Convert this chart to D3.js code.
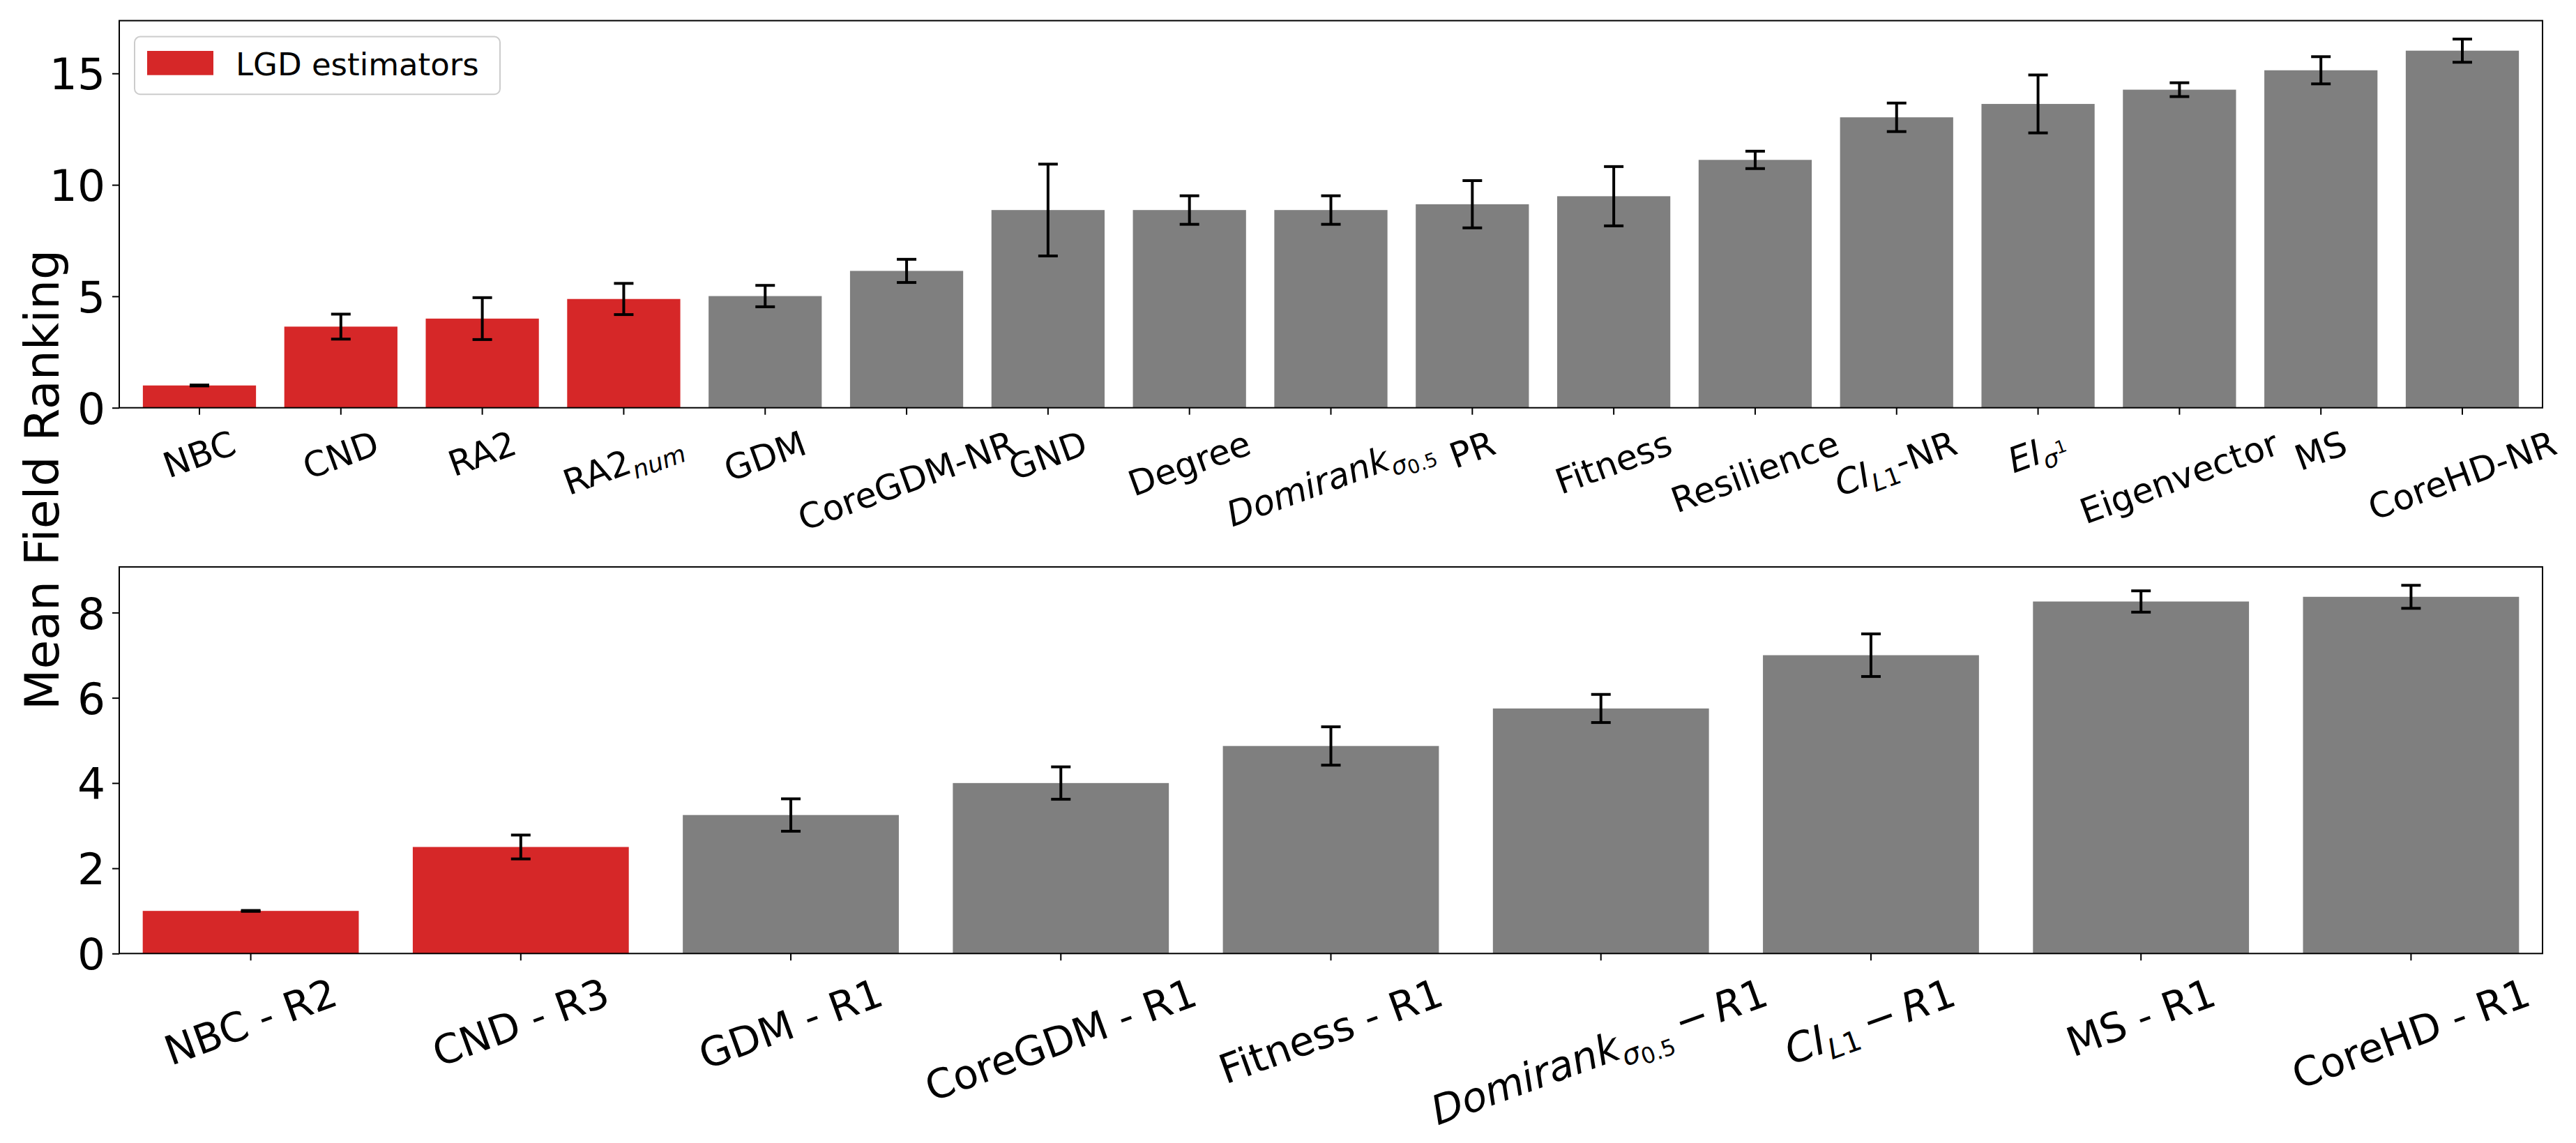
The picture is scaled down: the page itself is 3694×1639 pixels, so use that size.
<!DOCTYPE html>
<html>
<head>
<meta charset="utf-8">
<script src="https://cdn.jsdelivr.net/npm/d3@7.9.0/dist/d3.min.js"></script>
<style>
  body { margin: 0; background: #fff; }
  svg { display: block; font-family: "DejaVu Sans", sans-serif; }
  text { white-space: pre; }
</style>
</head>
<body>
<svg id="chart" width="3694" height="1639"></svg>
<script>
// label segments: [text, italic?, level]  level: 0 base, 1 sub, 2 sub-sub, 3 sup on sub
const topLabels = [
    [['NBC']],
    [['CND']],
    [['RA2']],
    [['RA2'], ['num', 1, 1]],
    [['GDM']],
    [['CoreGDM-NR']],
    [['GND']],
    [['Degree']],
    [['Domirank', 1], ['σ', 1, 1], ['0.5', 0, 2]],
    [['PR']],
    [['Fitness']],
    [['Resilience']],
    [['CI', 1], ['L', 1, 1], ['1', 0, 1], ['-NR']],
    [['EI', 1], ['σ', 1, 1], ['1', 0, 3]],
    [['Eigenvector']],
    [['MS']],
    [['CoreHD-NR']],
];
const topMeans = [1.0, 3.64, 4.0, 4.88, 5.01, 6.14, 8.87, 8.87, 8.87, 9.13, 9.49, 11.12, 13.03, 13.63, 14.27, 15.14, 16.02];
const topErrors = [0.02, 0.56, 0.94, 0.70, 0.48, 0.52, 2.06, 0.64, 0.64, 1.06, 1.33, 0.39, 0.64, 1.30, 0.31, 0.61, 0.52];
const topGroups = ['LGD', 'LGD', 'LGD', 'LGD', 'other', 'other', 'other', 'other', 'other',
    'other', 'other', 'other', 'other', 'other', 'other', 'other', 'other'];

const bottomLabels = [
    [['NBC - R2']],
    [['CND - R3']],
    [['GDM - R1']],
    [['CoreGDM - R1']],
    [['Fitness - R1']],
    [['Domirank', 1], ['σ', 1, 1], ['0.5', 0, 2], ['\u2009−\u2009'], ['R', 1], ['1']],
    [['CI', 1], ['L', 1, 1], ['1', 0, 1], ['\u2009−\u2009'], ['R', 1], ['1']],
    [['MS - R1']],
    [['CoreHD - R1']],
];
const bottomMeans = [1.0, 2.50, 3.25, 4.0, 4.87, 5.75, 7.0, 8.26, 8.37];
const bottomErrors = [0.01, 0.28, 0.38, 0.38, 0.45, 0.33, 0.50, 0.25, 0.27];
const bottomGroups = ['LGD', 'LGD', 'other', 'other', 'other', 'other', 'other', 'other', 'other'];

const topTicks = [0, 5, 10, 15];
const bottomTicks = [0, 2, 4, 6, 8];
const legendLabel = 'LGD estimators';

const svg = d3.select('#chart');
const color = d3.scaleOrdinal().domain(['LGD', 'other']).range(['#d62728', '#7f7f7f']);

const left = 171, right = 3646;

// draw rotated rich tick label, centered on x, top of rotated box at yTop
function richLabel(g, segs, x, yTop, fs) {
    let t = g.append('text')
        .attr('text-anchor', 'middle')
        .attr('font-size', fs)
        .attr('fill', '#000');
    let prev = 0;
    segs.forEach(([s, it, lvl]) => {
        let size = [1, 0.7, 0.55, 0.5][lvl || 0];
        let off = [0, 0.22, 0.34, -0.08][lvl || 0] * fs;
        t.append('tspan')
            .attr('dy', off - prev)
            .attr('font-size', fs * size)
            .attr('font-style', it ? 'italic' : 'normal')
            .text(s);
        prev = off;
    });
    let b = t.node().getBBox();
    let a = 20 * Math.PI / 180;
    let rotH = b.width * Math.sin(a) + b.height * Math.cos(a);
    let cx = b.x + b.width / 2, cy = b.y + b.height / 2;
    t.attr('transform', `translate(${x},${yTop + rotH / 2}) rotate(-20) translate(${-cx},${-cy})`);
}

function renderPanel(labels, means, errors, groups, ticks, top, bottom, outer, labelSize) {
    let x = d3.scaleBand()
        .domain(d3.range(means.length))
        .range([left, right])
        .paddingInner(0.2)
        .paddingOuter(outer);
    let yMax = d3.max(means.map((m, i) => m + errors[i])) * 1.05;
    let y = d3.scaleLinear().domain([0, yMax]).range([bottom, top]);

    let g = svg.append('g');

    // bars
    g.selectAll('rect.bar')
        .data(means)
        .join('rect')
        .attr('class', 'bar')
        .attr('x', (d, i) => x(i))
        .attr('width', x.bandwidth())
        .attr('y', (d) => y(d))
        .attr('height', (d) => y(0) - y(d))
        .attr('fill', (d, i) => color(groups[i]));

    // error bars
    means.forEach((m, i) => {
        let cx = x(i) + x.bandwidth() / 2;
        let eb = g.append('g').attr('stroke', '#000').attr('stroke-width', 4);
        eb.append('line').attr('x1', cx).attr('x2', cx).attr('y1', y(m - errors[i])).attr('y2', y(m + errors[i]));
        [m - errors[i], m + errors[i]].forEach((v) => {
            eb.append('line').attr('x1', cx - 14).attr('x2', cx + 14).attr('y1', y(v)).attr('y2', y(v));
        });
    });

    // y axis
    let ya = g.append('g')
        .attr('transform', `translate(${left},0)`)
        .call(d3.axisLeft(y).tickValues(ticks).tickSize(10).tickPadding(10).tickFormat(d3.format('d')));
    ya.select('.domain').remove();
    ya.selectAll('line').attr('stroke-width', 2);
    ya.selectAll('text').attr('font-size', 63).attr('font-family', 'DejaVu Sans').attr('dy', '0.36em');

    // x axis
    let xa = g.append('g')
        .attr('transform', `translate(0,${bottom})`)
        .call(d3.axisBottom(x).tickSize(10).tickFormat(''));
    xa.select('.domain').remove();
    xa.selectAll('line').attr('stroke-width', 2);

    labels.forEach((segs, i) => {
        richLabel(g, segs, x(i) + x.bandwidth() / 2, bottom + 22, labelSize);
    });

    // frame
    g.append('rect')
        .attr('x', left).attr('y', top)
        .attr('width', right - left).attr('height', bottom - top)
        .attr('fill', 'none').attr('stroke', '#000').attr('stroke-width', 2);
}

renderPanel(topLabels, topMeans, topErrors, topGroups, topTicks, 29.6, 584.7, 0.167, 50);
renderPanel(bottomLabels, bottomMeans, bottomErrors, bottomGroups, bottomTicks, 812.9, 1367.3, 0.087, 58);

// legend
let legend = svg.append('g');
legend.append('rect')
    .attr('x', 193).attr('y', 52.6).attr('width', 524).attr('height', 82.6)
    .attr('rx', 8)
    .attr('fill', '#fff').attr('fill-opacity', 0.8)
    .attr('stroke', '#cccccc').attr('stroke-width', 2);
legend.append('rect')
    .attr('x', 211).attr('y', 73).attr('width', 95).attr('height', 34.7)
    .attr('fill', color('LGD'));
legend.append('text')
    .attr('x', 338).attr('y', 107.7)
    .attr('font-size', 45)
    .text(legendLabel);

// y label
svg.append('text')
    .attr('transform', 'translate(84,688) rotate(-90)')
    .attr('text-anchor', 'middle')
    .attr('font-size', 68)
    .text('Mean Field Ranking');
</script>
</body>
</html>
